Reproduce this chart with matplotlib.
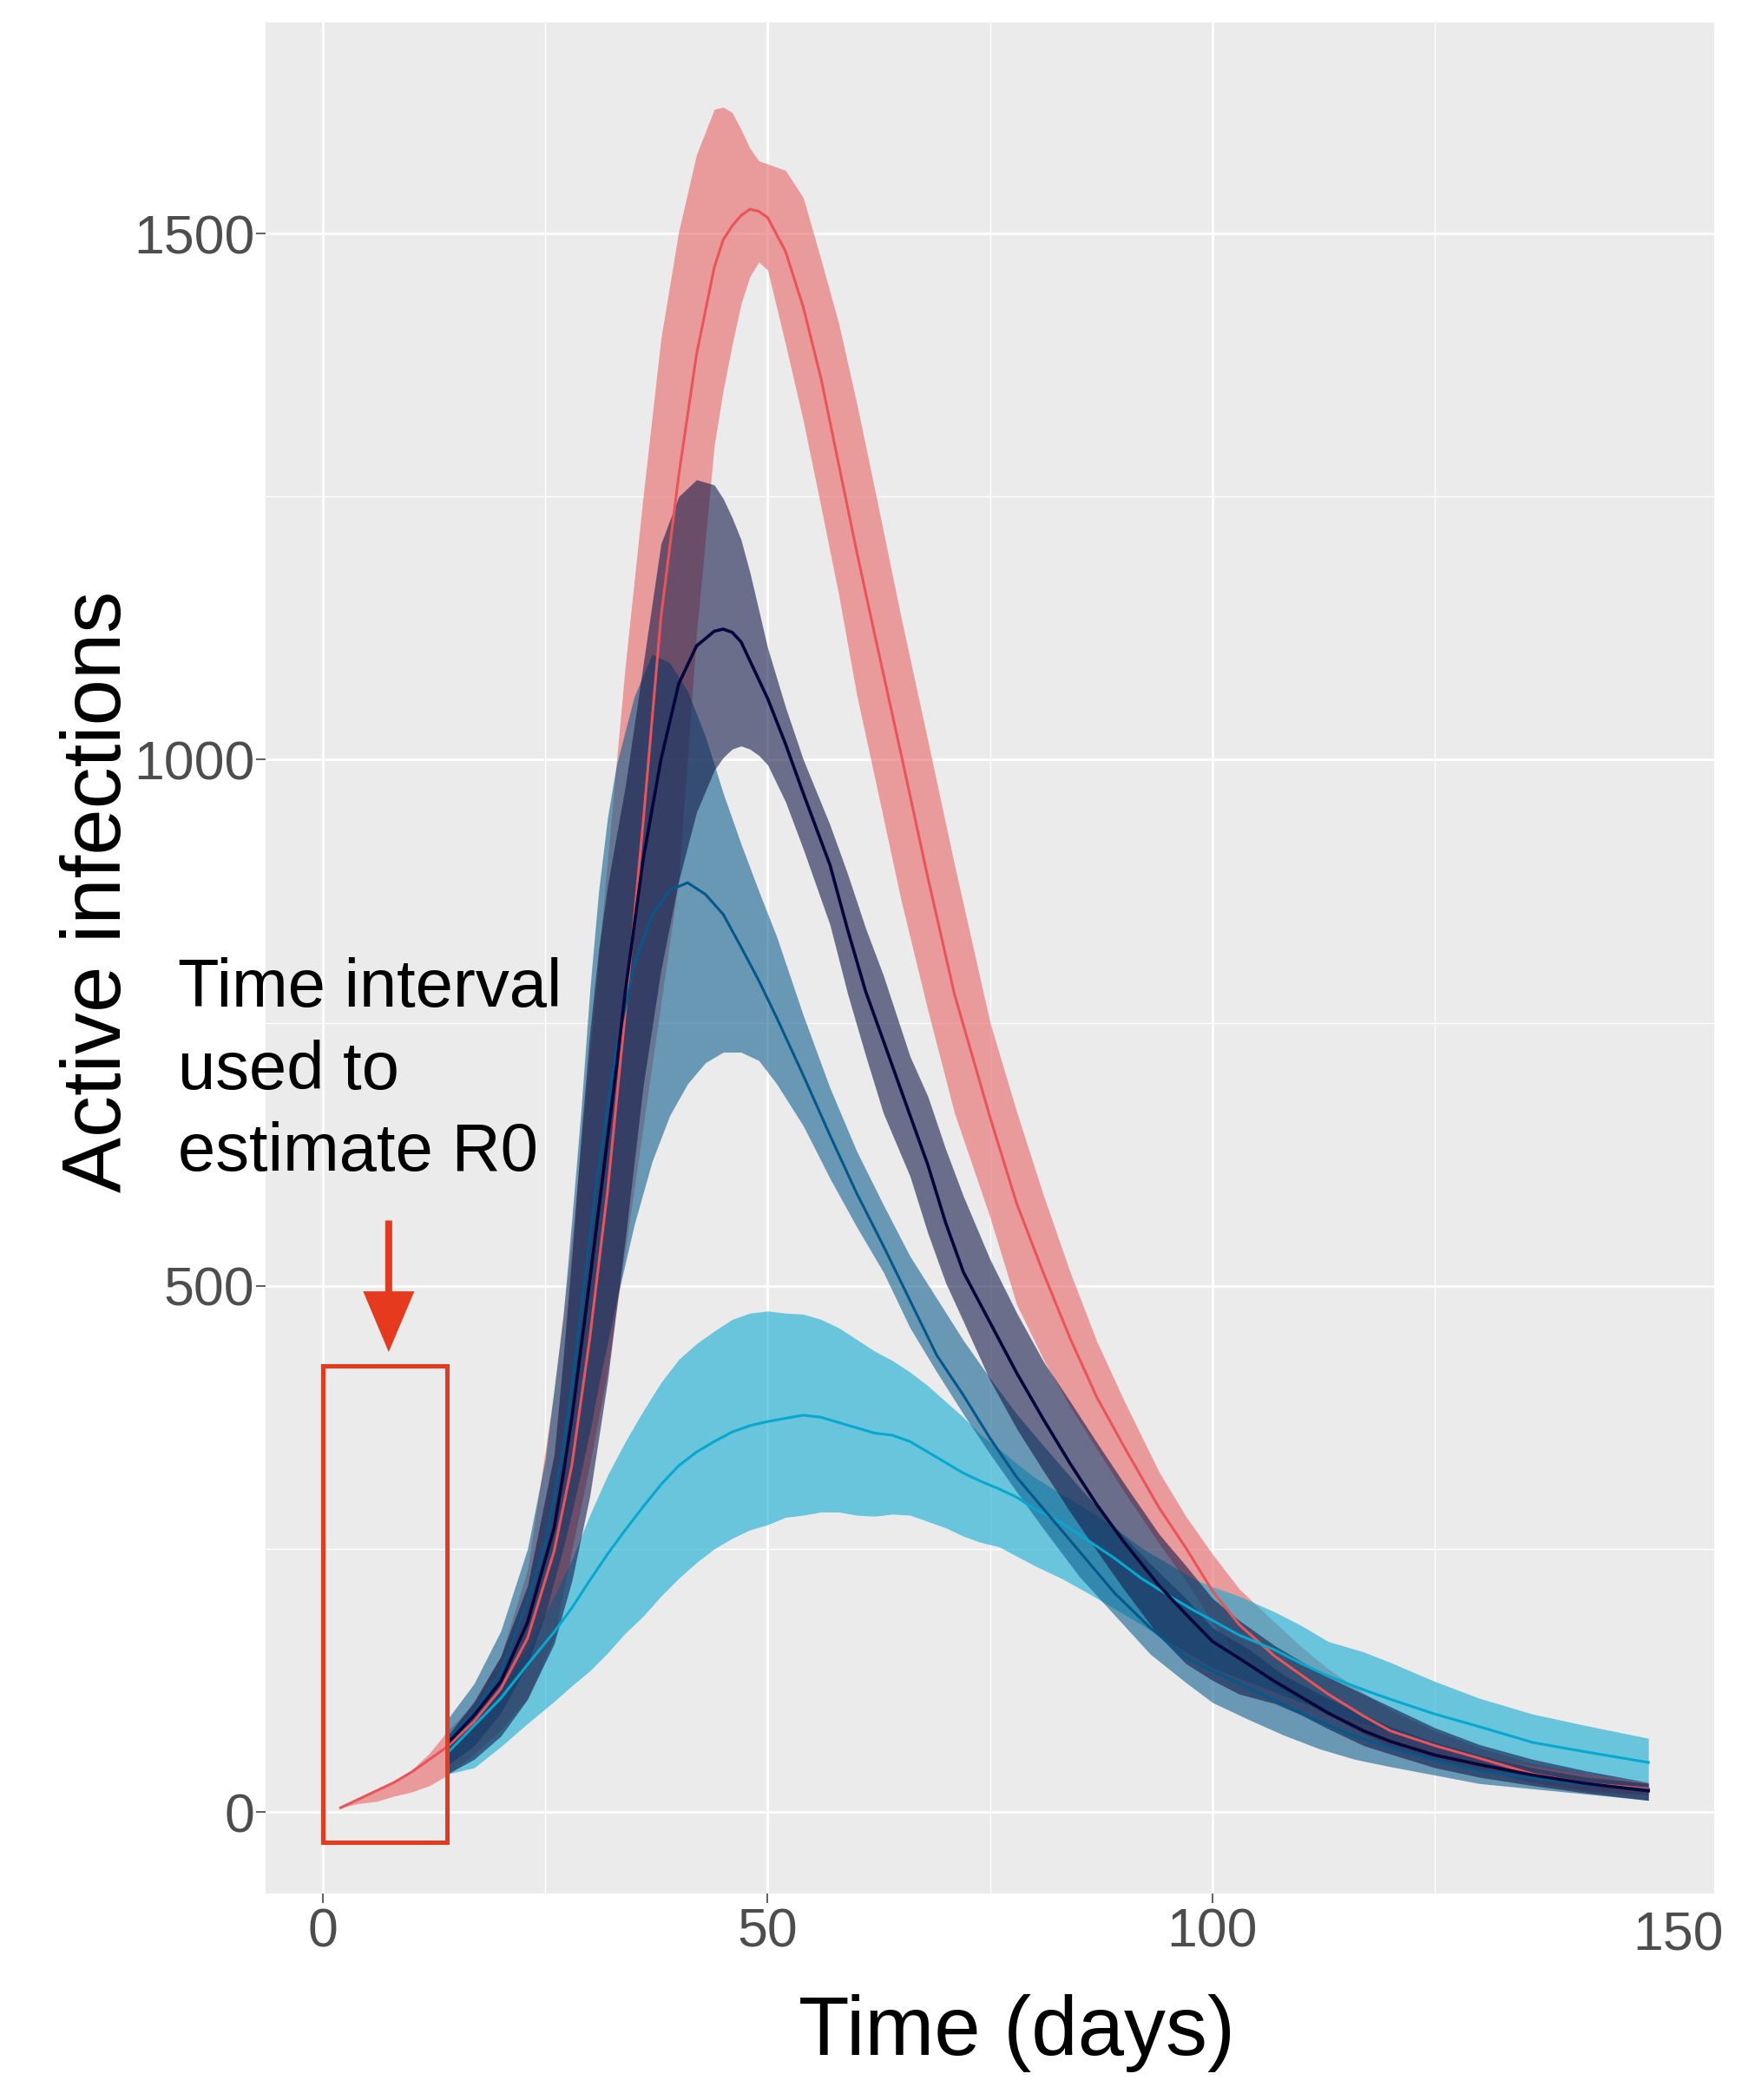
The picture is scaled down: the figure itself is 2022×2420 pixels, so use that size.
import matplotlib
matplotlib.use("Agg")
import matplotlib.pyplot as plt
from matplotlib.patches import Rectangle, FancyArrow

plt.rcParams["font.family"] = ["Liberation Sans", "DejaVu Sans"]

# ---- scenario A (red), starts at day 2 ----
RED_DAY = [2, 4, 6, 8, 10, 12, 14, 17, 20, 23, 26, 28, 30, 32, 34, 36, 38, 40, 42, 44, 45, 46, 47, 48, 49, 50,
           52, 54, 56, 58, 60, 62, 65, 68, 71, 75, 78, 81, 84, 87, 90, 94, 97, 100, 103, 107, 110, 113, 117, 120,
           125, 130, 136, 142, 149]
RED_MED = [4, 12, 20, 28, 38, 50, 62, 86, 117, 165, 248, 330, 450, 590, 760, 940, 1135, 1270, 1385, 1468, 1494,
           1507, 1517, 1523, 1521, 1515, 1483, 1430, 1362, 1280, 1198, 1120, 1005, 888, 777, 660, 578, 512, 450,
           394, 348, 289, 251, 210, 178, 148, 130, 112, 91, 77, 63, 51, 36, 27, 22]
RED_LO = [4, 8, 10, 15, 19, 25, 35, 55, 78, 108, 165, 250, 330, 420, 534, 651, 768, 885, 1120, 1299, 1351, 1394,
          1433, 1459, 1473, 1465, 1395, 1322, 1240, 1156, 1062, 984, 866, 762, 664, 565, 482, 430, 385, 345, 305,
          255, 220, 180, 147, 120, 105, 92, 74, 62, 50, 40, 28, 20, 16]
RED_HI = [4, 13, 20, 29, 40, 56, 77, 103, 148, 230, 400, 545, 720, 905, 1090, 1250, 1400, 1502, 1575, 1618, 1620,
          1615, 1599, 1581, 1569, 1566, 1560, 1534, 1475, 1414, 1339, 1258, 1135, 1018, 900, 750, 665, 586, 513,
          447, 392, 323, 281, 245, 212, 180, 157, 136, 113, 97, 77, 61, 46, 36, 27]

# ---- scenario B (cyan) ----
CYAN_DAY = [14, 17, 20, 23, 26, 28, 30, 32, 34, 36, 38, 40, 42, 44, 46, 48, 50, 52, 54, 56, 58, 60, 62, 64, 66, 68,
            70, 72, 74, 76, 78, 80, 83, 86, 89, 92, 95, 98, 100, 103, 107, 110, 113, 117, 120, 125, 130, 136, 142, 149]
CYAN_MED = [56, 82, 108, 140, 171, 194, 220, 245, 268, 290, 311, 329, 342, 352, 361, 367, 371, 374, 377, 375, 370,
            365, 360, 358, 352, 342, 332, 322, 314, 307, 299, 288, 275, 258, 241, 222, 206, 191, 182, 168, 154, 141,
            129, 116, 107, 93, 81, 66, 57, 47]
CYAN_LO = [36, 42, 62, 84, 105, 120, 134, 151, 170, 186, 205, 222, 237, 250, 260, 268, 273, 280, 282, 285, 285, 282,
           281, 283, 282, 276, 270, 262, 256, 252, 243, 234, 222, 208, 193, 178, 162, 147, 137, 127, 114, 104, 95,
           84, 75, 63, 53, 44, 36, 28]
CYAN_HI = [62, 84, 117, 155, 205, 240, 282, 320, 352, 381, 408, 430, 445, 457, 468, 474, 476, 474, 473, 468, 460,
           449, 438, 429, 418, 405, 390, 375, 358, 345, 331, 318, 302, 287, 270, 251, 236, 221, 214, 205, 190, 177,
           162, 152, 142, 124, 108, 93, 82, 70]

# ---- scenario C (steel blue) ----
STEEL_DAY = [14, 17, 20, 23, 25, 27, 28, 29, 30, 31, 32, 33, 35, 37, 39, 41, 43, 45, 47, 49, 51, 54, 57, 60, 63, 66,
             69, 72, 75, 78, 81, 85, 89, 93, 97, 100, 104, 108, 112, 116, 120, 125, 130, 136, 142, 149]
STEEL_MED = [70, 95, 133, 200, 255, 345, 405, 475, 545, 612, 670, 725, 805, 852, 876, 883, 872, 853, 822, 790, 755,
             700, 643, 588, 538, 486, 434, 396, 355, 318, 288, 248, 208, 175, 147, 134, 118, 102, 86, 72, 61, 49, 39,
             32, 26, 21]
STEEL_LO = [44, 63, 94, 140, 188, 250, 285, 322, 361, 405, 446, 485, 558, 618, 662, 692, 712, 722, 722, 714, 692,
            652, 602, 556, 513, 460, 418, 378, 340, 304, 269, 224, 187, 150, 123, 104, 88, 73, 60, 50, 43, 35, 27,
            22, 17, 11]
STEEL_HI = [88, 122, 172, 250, 335, 470, 565, 665, 780, 875, 945, 995, 1060, 1100, 1092, 1065, 1022, 968, 920, 875,
            832, 757, 688, 628, 577, 528, 488, 448, 412, 378, 348, 309, 271, 236, 203, 175, 155, 130, 112, 96, 81,
            66, 54, 42, 33, 27]

# ---- scenario D (navy) ----
NAVY_DAY = [14, 17, 20, 23, 26, 27, 28, 29, 30, 31, 32, 33, 34, 36, 38, 40, 42, 44, 45, 46, 47, 48, 49, 50, 52, 54,
            57, 59, 61, 63, 66, 68, 70, 72, 75, 78, 81, 84, 87, 90, 94, 97, 100, 103, 107, 110, 113, 117, 120, 125,
            130, 136, 142, 149]
NAVY_MED = [65, 92, 124, 180, 270, 320, 375, 440, 505, 572, 640, 708, 780, 905, 1000, 1072, 1108, 1122, 1124, 1121,
            1112, 1094, 1076, 1058, 1015, 968, 900, 838, 780, 733, 662, 615, 560, 513, 465, 417, 373, 331, 292, 257,
            215, 188, 162, 146, 124, 109, 94, 77, 67, 54, 45, 35, 27, 20]
NAVY_LO = [36, 50, 72, 107, 160, 190, 220, 260, 300, 355, 410, 478, 545, 690, 800, 885, 950, 990, 1002, 1010, 1013,
           1010, 1004, 995, 960, 915, 843, 777, 719, 664, 604, 550, 503, 466, 410, 364, 324, 285, 248, 212, 167,
           141, 125, 112, 103, 92, 79, 63, 55, 42, 33, 25, 18, 11]
NAVY_HI = [72, 105, 148, 215, 340, 430, 530, 640, 740, 820, 880, 928, 975, 1090, 1205, 1250, 1266, 1261, 1248,
           1230, 1209, 1178, 1142, 1106, 1050, 1000, 938, 891, 840, 795, 718, 680, 630, 585, 525, 474, 428, 390,
           351, 313, 264, 234, 203, 182, 158, 143, 128, 112, 100, 80, 64, 50, 39, 28]

# annotation box / arrow (data units)
BOX_X, BOX_Y, BOX_W, BOX_H = 0, -29, 14, 453
ARROW_X, ARROW_TOP, ARROW_TIP = 7.4, 562, 437
NOTE_LINES = ["Time interval", "used to", "estimate R0"]

ANNOT_RED = "#E63A1F"
SERIES = [
    (RED_DAY, RED_LO, RED_MED, RED_HI, "#E86467", "#E9545A", 1.1),
    (CYAN_DAY, CYAN_LO, CYAN_MED, CYAN_HI, "#11ACD2", "#06A8CF", 1.1),
    (STEEL_DAY, STEEL_LO, STEEL_MED, STEEL_HI, "#11618F", "#04588A", 1.1),
    (NAVY_DAY, NAVY_LO, NAVY_MED, NAVY_HI, "#141B49", "#05063A", 1.3),
]

W, H = 2022, 2420
fig = plt.figure(figsize=(W / 200, H / 200), dpi=200, facecolor="white")
ax = fig.add_axes([306 / W, 1 - 2182 / H, (1975 - 306) / W, (2182 - 26) / H])
ax.set_facecolor("#EBEBEB")

for day, lo, med, hi, fill, line, lw in SERIES:
    ax.fill_between(day, lo, hi, color=fill, alpha=0.6, linewidth=0)
for day, lo, med, hi, fill, line, lw in SERIES:
    ax.plot(day, med, color=line, linewidth=lw, solid_joinstyle="round")

ax.set_xlim(-6.44, 156.4)
ax.set_ylim(-77.5, 1700.4)
ax.set_xticks([0, 50, 100])
ax.set_xticks([25, 75, 125], minor=True)
ax.set_yticks([0, 500, 1000, 1500])
ax.set_yticks([250, 750, 1250], minor=True)
ax.grid(which="major", color="white", linewidth=1.0)
ax.grid(which="minor", color="white", linewidth=0.5)
ax.set_axisbelow(True)
for s in ax.spines.values():
    s.set_visible(False)
ax.tick_params(which="minor", length=0)
ax.tick_params(which="major", length=4, width=0.55, color="#333333",
               labelsize=22.5, labelcolor="#4D4D4D")
ax.tick_params(axis="y", pad=0.5)
ax.tick_params(axis="x", pad=1.5)

# the last x label sits on its own, without tick or grid line
fig.text(1934 / W, 1 - 2247 / H, "150", fontsize=22.5, color="#4D4D4D",
         ha="center", va="baseline")

# red box + arrow marking the interval used for R0
ax.add_patch(Rectangle((BOX_X, BOX_Y), BOX_W, BOX_H, fill=False,
                       edgecolor=ANNOT_RED, linewidth=1.8, clip_on=False, zorder=5))
ax.add_patch(FancyArrow(ARROW_X, ARROW_TOP, 0, ARROW_TIP - ARROW_TOP, width=0.78,
                        head_width=5.76, head_length=57.7, length_includes_head=True,
                        color=ANNOT_RED, linewidth=0, clip_on=False, zorder=5))

for i, txt in enumerate(NOTE_LINES):
    fig.text(205 / W, 1 - (1160 + 94.5 * i) / H, txt, fontsize=28,
             color="black", ha="left", va="baseline")

fig.text(139 / W, 1 - 1027 / H, "Active infections", fontsize=34.5, rotation=90,
         rotation_mode="anchor", ha="center", va="baseline", color="black")
fig.text(1172 / W, 1 - 2368 / H, "Time (days)", fontsize=34.5,
         ha="center", va="baseline", color="black")

fig.savefig("out.png", dpi=200, facecolor="white")
